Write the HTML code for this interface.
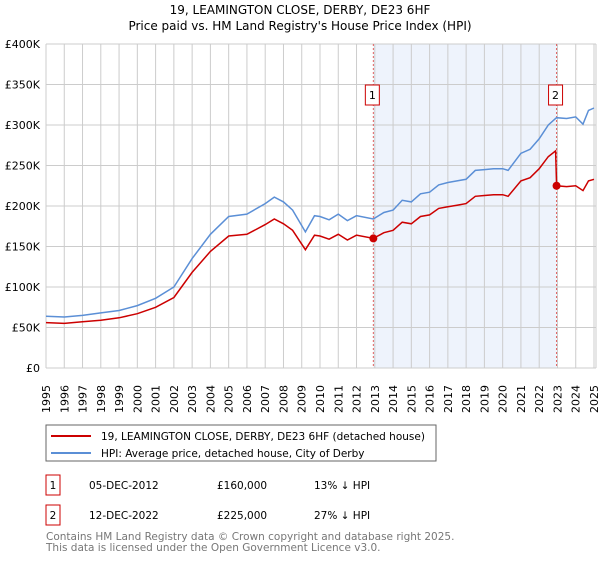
<!DOCTYPE html>
<html><head><meta charset="utf-8"><style>
body{margin:0;background:#fff;font-family:"DejaVu Sans","Liberation Sans",sans-serif;}
svg text{font-family:"DejaVu Sans","Liberation Sans",sans-serif;}
</style></head><body>
<svg id="c" width="600" height="560" xmlns="http://www.w3.org/2000/svg">
<text x="300" y="14" text-anchor="middle" font-size="12">19, LEAMINGTON CLOSE, DERBY, DE23 6HF</text>
<text x="300" y="30" text-anchor="middle" font-size="12">Price paid vs. HM Land Registry's House Price Index (HPI)</text>
<g id="plot"></g>
<rect x="46" y="425" width="390" height="36" fill="#fff" stroke="#666"/>
<line x1="51" y1="436" x2="91" y2="436" stroke="#cc0000" stroke-width="2"/>
<text x="101" y="440" font-size="10.5">19, LEAMINGTON CLOSE, DERBY, DE23 6HF (detached house)</text>
<line x1="51" y1="453" x2="91" y2="453" stroke="#5b8fd6" stroke-width="2"/>
<text x="101" y="457" font-size="10.5">HPI: Average price, detached house, City of Derby</text>
<g>
<rect x="46" y="475" width="14" height="20" fill="#fff" stroke="#cc0000"/>
<text x="53" y="489" font-size="10.5" text-anchor="middle">1</text>
<text x="89" y="489" font-size="10.5">05-DEC-2012</text>
<text x="217" y="489" font-size="10.5">£160,000</text>
<text x="314" y="489" font-size="10.5">13% ↓ HPI</text></g>
<g>
<rect x="46" y="505" width="14" height="20" fill="#fff" stroke="#cc0000"/>
<text x="53" y="519" font-size="10.5" text-anchor="middle">2</text>
<text x="89" y="519" font-size="10.5">12-DEC-2022</text>
<text x="217" y="519" font-size="10.5">£225,000</text>
<text x="314" y="519" font-size="10.5">27% ↓ HPI</text></g>
<text x="46" y="540" font-size="10.5" fill="#777">Contains HM Land Registry data © Crown copyright and database right 2025.</text>
<text x="46" y="551" font-size="10.5" fill="#777">This data is licensed under the Open Government Licence v3.0.</text>
</svg>
<script>
const years=[1995,1996,1997,1998,1999,2000,2001,2002,2003,2004,2005,2006,2007,2007.5,2008,2008.5,2009.2,2009.7,2010,2010.5,2011,2011.5,2012,2012.92,2013.5,2014,2014.5,2015,2015.5,2016,2016.5,2017,2017.5,2018,2018.5,2019,2019.5,2020,2020.3,2021,2021.5,2022,2022.5,2022.9,2022.95,2023.5,2024,2024.4,2024.7,2025];
const hpiValues=[64,63,65,68,71,77,86,100,135,165,187,190,203,211,205,195,168,188,187,183,190,182,188,184,192,195,207,205,215,217,226,229,231,233,244,245,246,246,244,265,270,283,300,308,309,308,310,301,318,321];
const propertyValues=[56,55,57,59,62,67,75,87,118,144,163,165,177,184,178,170,146,164,163,159,165,158,164,160,167,170,180,178,187,189,197,199,201,203,212,213,214,214,212,231,235,246,261,268,225,224,225,219,231,233];
const saleYears=[2012.92,2022.95];
const saleValues=[160,225];
const yTicks=[0,50,100,150,200,250,300,350,400];
const xTicks=[1995,1996,1997,1998,1999,2000,2001,2002,2003,2004,2005,2006,2007,2008,2009,2010,2011,2012,2013,2014,2015,2016,2017,2018,2019,2020,2021,2022,2023,2024,2025];
const X=t=>46+(t-1995)*(594-46)/30;
const Y=v=>368-v*(368-44)/400;
const NS="http://www.w3.org/2000/svg",g=document.getElementById('plot');
function mk(tag,a,name){const e=document.createElementNS(NS,tag);for(const k in a)e.setAttribute(k,a[k]);


g.appendChild(e);return e;}
mk('rect',{x:X(saleYears[0]),y:Y(400),width:X(saleYears[1])-X(saleYears[0]),height:Y(0)-Y(400),fill:'#eef3fc'},'sale-period-shade');
yTicks.forEach(v=>{mk('line',{x1:46,x2:596,y1:Y(v),y2:Y(v),stroke:'#ccc'},'y-gridline');
const t=mk('text',{x:40,y:Y(v)+4,'text-anchor':'end','font-size':11},'y-tick-label');t.textContent=v?'£'+v+'K':'£0';});
xTicks.forEach(y=>{mk('line',{x1:X(y),x2:X(y),y1:Y(400),y2:Y(0),stroke:'#ccc'},'x-gridline');
const t=mk('text',{x:0,y:0,'font-size':11,transform:`translate(${X(y)+4},${413}) rotate(-90)`},'x-tick-label');t.textContent=y;});
mk('line',{x1:596,x2:596,y1:Y(400),y2:Y(0),stroke:'#ccc'},'plot-right-border');
saleYears.forEach((s,i)=>{mk('line',{x1:X(s),x2:X(s),y1:Y(400),y2:Y(0),stroke:'#e06060','stroke-dasharray':'2,2'},'sale-marker-line');
mk('rect',{x:X(s)-8,y:85,width:14,height:20,fill:'#fff',stroke:'#cc0000'},'sale-marker-box');
const t=mk('text',{x:X(s)-1,y:99,'text-anchor':'middle','font-size':11},'sale-marker-label');t.textContent=i+1;});
const pts=a=>years.map((t,i)=>X(t).toFixed(1)+','+Y(a[i]).toFixed(1)).join(' ');
mk('polyline',{points:pts(hpiValues),fill:'none',stroke:'#5b8fd6','stroke-width':1.5},'hpi-line');
mk('polyline',{points:pts(propertyValues),fill:'none',stroke:'#cc0000','stroke-width':1.5},'property-line');
saleYears.forEach((s,i)=>mk('circle',{cx:X(s),cy:Y(saleValues[i]),r:4,fill:'#cc0000'},'sale-point'));
</script>
</body></html>
